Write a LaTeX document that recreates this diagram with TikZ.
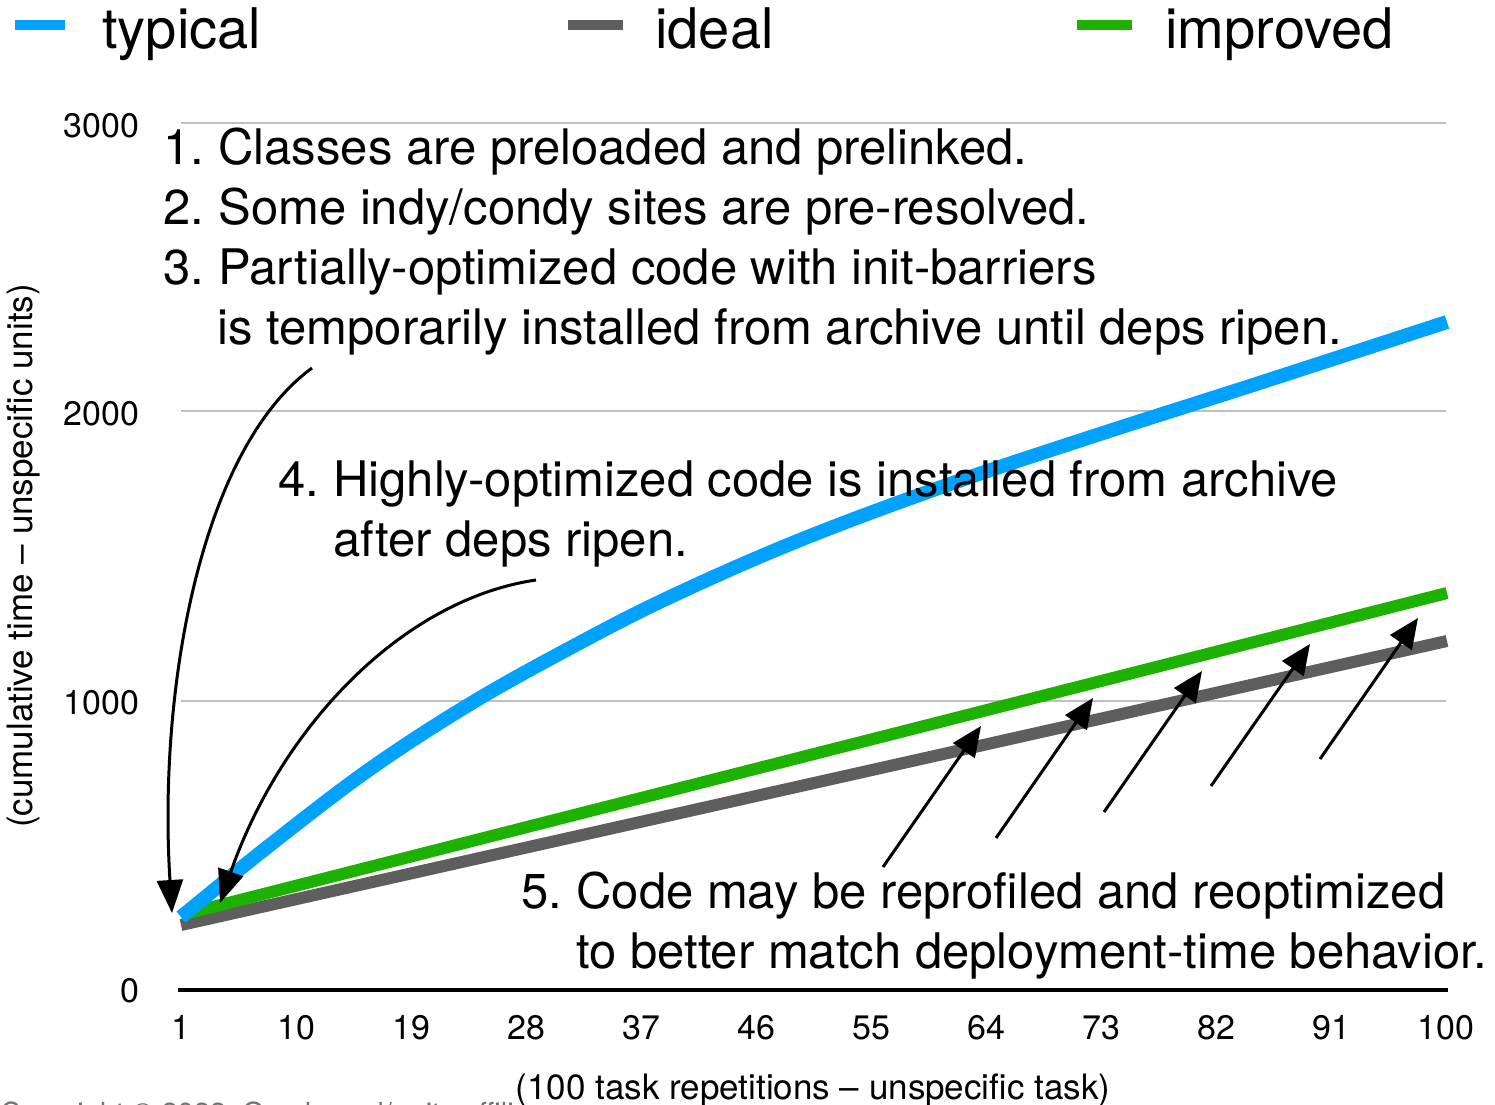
\documentclass[tikz,border=0pt]{standalone}
\usepackage{fontspec}
\setmainfont{TeX Gyre Heros}
\usetikzlibrary{arrows.meta}
\definecolor{typicalc}{HTML}{00A2FF}
\definecolor{idealc}{HTML}{5E5E5E}
\definecolor{improvedc}{HTML}{1DB100}
\definecolor{gridc}{HTML}{C0C0C0}
\begin{document}
\begin{tikzpicture}[x=0.5pt,y=-0.5pt,
  legendtext/.style={anchor=base west, inner sep=0pt, font=\fontsize{28}{34}\selectfont},
  legenddash/.style={line width=5pt},
  note/.style={anchor=base west, inner sep=0pt, font=\fontsize{24.5}{30}\selectfont},
  ticklab/.style={inner sep=0pt, font=\fontsize{17}{20}\selectfont},
  axislab/.style={inner sep=1pt, font=\fontsize{17.5}{21}\selectfont},
  series/.style={line width=6pt, line cap=butt, line join=round},
  gridline/.style={draw=gridc, line width=1pt},
  pointer/.style={line width=1.5pt, -{Triangle[length=15pt,width=13pt]}},
  bigpointer/.style={line width=1.5pt, -{Triangle[length=16.5pt,width=13pt]}},
]
\useasboundingbox (0,0) rectangle (1495,1104);

% legend
\draw[legenddash, typicalc] (15,25) -- (65,25);
\node[legendtext] (legTypical) at (102,48) {typical};
\draw[legenddash, idealc] (568,25) -- (623,25);
\node[legendtext] (legIdeal) at (655,48) {ideal};
\draw[legenddash, improvedc] (1077,25) -- (1132,25);
\node[legendtext] (legImproved) at (1165,48) {improved};

% grid and axis
\draw[gridline] (181,123) -- (1446,123);
\draw[gridline] (181,411) -- (1446,411);
\draw[gridline] (181,701) -- (1446,701);
\draw[line width=1.6pt] (178,990) -- (1448,990);

% y tick labels
\node[ticklab, anchor=base east] (y3000) at (140,137) {3000};
\node[ticklab, anchor=base east] (y2000) at (140,425) {2000};
\node[ticklab, anchor=base east] (y1000) at (140,714) {1000};
\node[ticklab, anchor=base east] (y0) at (140,1002) {0};

% x tick labels
\foreach \n [count=\i from 0] in {1,10,19,28,37,46,55,64,73,82,91,100}
  \node[ticklab, anchor=base] (x\n) at ({181+115*\i},1039) {\n};

% footer line behind the x-axis title
\node[anchor=base west, inner sep=0pt, text=black!55, font=\fontsize{14.5}{17}\selectfont]
  (copy) at (0,1123) {Copyright © 2022, Oracle and/or its affiliates};

% axis titles
\node[axislab, fill=white, anchor=base] (xtitle) at (813,1099)
  {(100 task repetitions – unspecific task)};
\node[axislab, rotate=90] (ytitle) at (24,556)
  {(cumulative time – unspecific units)};

% data series
\draw[series, idealc] (181,925) -- (1447,641);
\draw[series, improvedc] (181,915) -- (1447,593);
\draw[series, typicalc, line width=7pt] plot[smooth, tension=0.6] coordinates {
  (181,917) (270,845) (370,769) (470,704) (570,648) (670,597)
  (800,540) (950,484) (1100,434) (1250,386) (1447,322)};

% annotations
\node[note] (n1) at (163,164) {1.\kern-2pt{} Classes are preloaded and prelinked.};
\node[note] (n2) at (163,224) {2.\kern-2pt{} Some indy/condy sites are pre-resolved.};
\node[note] (n3) at (163,284) {3.\kern-2pt{} Partially-optimized code with init-barriers};
\node[note] (n3b) at (217,344) {is temporarily installed from archive until deps ripen.};
\node[note] (n4) at (278,496) {4.\kern-2pt{} Highly-optimized code is installed from archive};
\node[note] (n4b) at (333,556) {after deps ripen.};
\node[note] (n5) at (521,908) {5.\kern-2pt{} Code may be reprofiled and reoptimized};
\node[note] (n5b) at (576,968) {to better match deployment-time behavior.};

% pointers for notes 1-3 and 4
\coordinate (p1s) at (312,368);
\coordinate (p1e) at (172,913);
\draw[bigpointer] (p1s) .. controls (200,450) and (158,690) .. (p1e);
\coordinate (p2s) at (536,580);
\coordinate (p2e) at (220,903);
\draw[bigpointer] (p2s) .. controls (400,600) and (280,730) .. (p2e);

% pointers for note 5
\coordinate (q1s) at (883,867); \coordinate (q1e) at (981,726);
\coordinate (q2s) at (996,838); \coordinate (q2e) at (1093,698);
\coordinate (q3s) at (1104,812); \coordinate (q3e) at (1202,671);
\coordinate (q4s) at (1211,786); \coordinate (q4e) at (1310,644);
\coordinate (q5s) at (1320,759); \coordinate (q5e) at (1418,618);
\foreach \k in {1,...,5}
  \draw[pointer] (q\k s) -- (q\k e);
\end{tikzpicture}
\end{document}
